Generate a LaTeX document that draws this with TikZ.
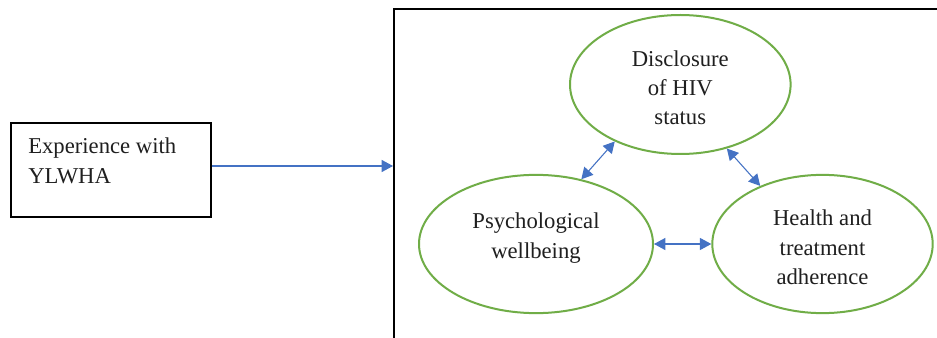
\documentclass[tikz,border=0pt]{standalone}
\usepackage{fontspec}
\setmainfont{Liberation Serif}
\usetikzlibrary{shapes.geometric,arrows.meta}
\definecolor{ogreen}{HTML}{70AD47}
\definecolor{oblue}{HTML}{4472C4}
\begin{document}
\begin{tikzpicture}[x=0.75pt,y=-0.75pt,
  lbl/.style={font=\fontsize{17}{22}\selectfont, align=center, inner sep=0pt, text=black!88},
  oval/.style={ellipse, draw=ogreen, line width=1.5pt, inner sep=0pt},
  conn/.style={draw=oblue, line width=0.8pt, -{Triangle[length=8.5pt,width=9pt]}},
  biconn/.style={draw=oblue, line width=0.8pt, {Triangle[length=8.5pt,width=9pt]}-{Triangle[length=8.5pt,width=9pt]}},
  framebox/.style={draw=black, line width=1.5pt, inner sep=0pt},
  expbox/.style={draw=black, line width=1.5pt, inner sep=0pt}]
\useasboundingbox (0,0) rectangle (937,338);
\fill[white] (0,0) rectangle (937,338);
% left box
\node[expbox, minimum width=150pt, minimum height=70.5pt] (exp) at (111,170) {};
\node[lbl, align=left, anchor=north west] (exptxt) at (28,138) {Experience with\\YLWHA};
% big frame (continues beyond the picture)
\node[framebox, minimum width=424.5pt, minimum height=263.25pt] (frame) at (677,184.5) {};
% ellipses
\node[oval, minimum width=165.45pt, minimum height=104.25pt] (disc) at (680.3,84.5) {};
\node[lbl] (disctxt) at ([yshift=-2.5pt]disc.center) {Disclosure\\of HIV\\status};
\node[oval, minimum width=175.5pt, minimum height=103.7pt] (psy) at (536,244) {};
\node[lbl] (psytxt) at ([yshift=4.5pt]psy.center) {Psychological\\wellbeing};
\node[oval, minimum width=165.3pt, minimum height=103.7pt] (hea) at (822.5,244) {};
\node[lbl] (heatxt) at ([yshift=-2.5pt]hea.center) {Health and\\treatment\\adherence};
% connectors
\coordinate (ea) at ([yshift=3pt]exp.east);
\draw[conn] (ea) -- (ea -| frame.west);
\draw[biconn] (psy.55.5) -- (disc.221.5);
\draw[biconn] (disc.306.6) -- (hea.137.5);
\draw[biconn] (psy.east) -- (hea.west);
\end{tikzpicture}
\end{document}
